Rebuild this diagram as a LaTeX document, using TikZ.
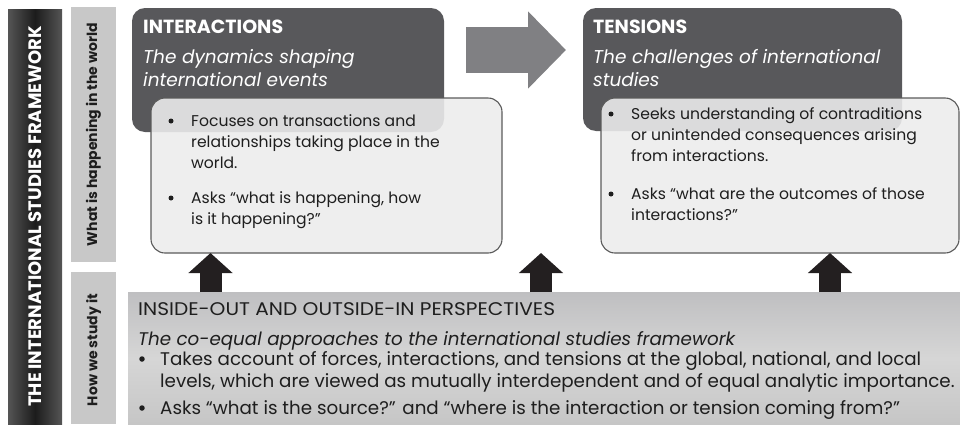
\documentclass[tikz,border=0pt]{standalone}
\usepackage{fontspec}
\setmainfont{Poppins}
\usetikzlibrary{arrows.meta}
\definecolor{darkfill}{HTML}{58585B}
\definecolor{lightfill}{HTML}{ECECEC}
\definecolor{lightborder}{HTML}{5A5A5A}
\definecolor{sidegray}{HTML}{C8C8C8}
\definecolor{barmid}{HTML}{1C1C1C}
\definecolor{baredge}{HTML}{555555}
\definecolor{arrowgray}{HTML}{808083}
\definecolor{arrowblack}{HTML}{231F20}
\definecolor{bottop}{HTML}{BFBFC1}
\definecolor{botmid}{HTML}{D6D6D6}
\definecolor{botbot}{HTML}{C6C6C6}
\definecolor{textdark}{HTML}{1E1E1E}
\begin{document}
\begin{tikzpicture}[x=1pt,y=-1pt,
  box/.style={anchor=north west, inner sep=0pt, outer sep=0pt},
  darkbox/.style={box, fill=darkfill, rounded corners=13pt},
  lightbox/.style={box, fill=lightfill, fill opacity=0.89, draw=lightborder, line width=1.1pt, rounded corners=14pt},
  title/.style={anchor=base west, inner sep=0pt, text=white, font=\fontsize{19}{22}\selectfont\bfseries},
  subtitle/.style={anchor=base west, inner sep=0pt, text=white, align=left, font=\fontsize{18.5}{23}\selectfont\itshape},
  body/.style={anchor=base west, inner sep=0pt, text=textdark, align=left, font=\fontsize{15.6}{21}\selectfont},
  bodybig/.style={anchor=base west, inner sep=0pt, text=textdark, align=left, font=\fontsize{18.3}{22}\selectfont},
  dot/.style={circle, fill=textdark, inner sep=0pt, minimum size=5pt},
  uparrow/.style={draw=arrowblack, line width=22pt, -{Triangle[width=43pt,length=20pt]}},
  sidearrow/.style={draw=arrowgray, line width=46pt, -{Triangle[width=75pt,length=38pt]}}
]
\useasboundingbox (0,0) rectangle (960,426);

% left framework bar
\node[box, minimum width=54pt, minimum height=415pt, left color=baredge, right color=baredge, middle color=barmid] (bar) at (8,9) {};
\node[text=white, rotate=90, inner sep=0pt, font=\fontsize{18}{20}\selectfont\bfseries] (bartext) at (bar.center) {THE INTERNATIONAL STUDIES FRAMEWORK};

% side labels
\node[box, fill=sidegray, minimum width=45pt, minimum height=255pt] (what) at (71,7) {};
\node[text=textdark, rotate=90, inner sep=0pt, font=\fontsize{14}{16}\selectfont\bfseries] (whattext) at (what.center) {What is happening in the world};
\node[box, fill=sidegray, minimum width=45pt, minimum height=152pt] (how) at (71,272) {};
\node[text=textdark, rotate=90, inner sep=0pt, font=\fontsize{14}{16}\selectfont\bfseries] (howtext) at ([yshift=-2pt]how.center) {How we study it};

% dark header boxes
\node[darkbox, minimum width=312pt, minimum height=124pt] (intdark) at (132,8) {};
\node[darkbox, minimum width=319pt, minimum height=123pt] (tendark) at (583,8) {};

% grey arrow between
\coordinate (ga1) at (466,50);
\coordinate (ga2) at (566,50);
\draw[sidearrow] (ga1) -- (ga2);

\node[title] (inttitle) at (143,33) {INTERACTIONS};
\node[subtitle] (intsub) at (143,86) {The dynamics shaping\\international events};
\node[title] (tentitle) at (593,33) {TENSIONS};
\node[subtitle] (tensub) at (593,86) {The challenges of international\\studies};

% light content boxes
\node[lightbox, minimum width=351pt, minimum height=155pt] (intlight) at (151,98) {};
\node[lightbox, minimum width=358pt, minimum height=155pt] (tenlight) at (601,98) {};

\node[dot] (ib1) at (171,121) {};
\node[body] (it1) at (191,168) {Focuses on transactions and\\relationships taking place in the\\world.};
\node[dot] (ib2) at (171,198) {};
\node[body] (it2) at (191,224) {Asks “what is happening, how\\is it happening?”};

\node[dot] (tb1) at (611,114) {};
\node[body] (tt1) at (631,161) {Seeks understanding of contraditions\\or unintended consequences arising\\from interactions.};
\node[dot] (tb2) at (611,194) {};
\node[body] (tt2) at (631,220) {Asks “what are the outcomes of those\\interactions?”};

% bottom perspectives box
\node[box, minimum width=832pt, minimum height=132pt, top color=bottop, bottom color=botbot, middle color=botmid] (bot) at (128,292) {};
\node[bodybig] (bottitle) at (138,315) {\scalebox{1.1}[1]{INSIDE-OUT AND OUTSIDE-IN PERSPECTIVES}};
\node[bodybig, font=\fontsize{18.3}{22}\selectfont\itshape] (botsub) at (138,345) {The co-equal approaches to the international studies framework};
\node[dot, minimum size=5.5pt] (bb1) at (142,359) {};
\node[bodybig] (bt1) at (160,387) {Takes account of forces, interactions, and tensions at the global, national, and local\\levels, which are viewed as mutually interdependent and of equal analytic importance.};
\node[dot, minimum size=5.5pt] (bb2) at (142,408) {};
\node[bodybig] (bt2) at (160,414) {Asks “what is the source?” and “where is the interaction or tension coming from?”};

% black up arrows
\coordinate (ax1) at (210.5,0);
\coordinate (ax2) at (541,0);
\coordinate (ax3) at (830,0);
\coordinate (midtip) at (541,253);
\draw[uparrow] (bot.north -| ax1) -- (intlight.south -| ax1);
\draw[uparrow] (bot.north -| ax2) -- (midtip);
\draw[uparrow] (bot.north -| ax3) -- (tenlight.south -| ax3);
\end{tikzpicture}
\end{document}
